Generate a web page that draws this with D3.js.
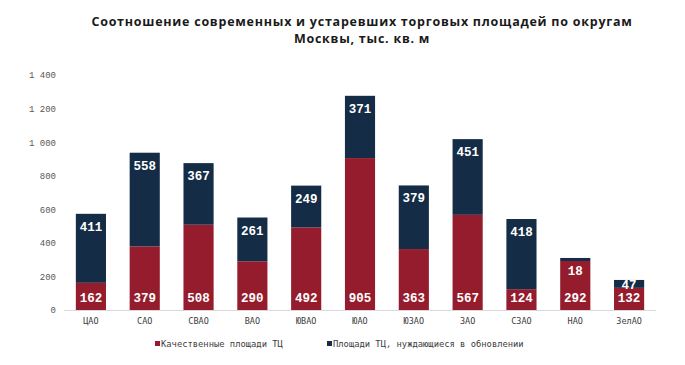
<!DOCTYPE html>
<html>
<head>
<meta charset="utf-8">
<script src="https://cdn.jsdelivr.net/npm/d3@7"></script>
<style>
  body { margin: 0; background: #fff; }
  svg { display: block; }
</style>
</head>
<body>
<svg id="chart" width="685" height="365"></svg>
<script>
const categories = ["ЦАО", "САО", "СВАО", "ВАО", "ЮВАО", "ЮАО", "ЮЗАО", "ЗАО", "СЗАО", "НАО", "ЗелАО"];
const quality = [162, 379, 508, 290, 492, 905, 363, 567, 124, 292, 132];
const outdated = [411, 558, 367, 261, 249, 371, 379, 451, 418, 18, 47];
const yTicks = [0, 200, 400, 600, 800, 1000, 1200, 1400];
const seriesNames = ["Качественные площади ТЦ", "Площади ТЦ, нуждающиеся в обновлении"];
const colors = ["#951c2c", "#152c46"];
const titleLines = ["Соотношение современных и устаревших торговых площадей по округам", "Москвы, тыс. кв. м"];

const svg = d3.select("#chart");
const mono = "'Liberation Mono', 'DejaVu Sans Mono', monospace";
const monoCyr = "'DejaVu Sans Mono', 'Liberation Mono', monospace";

const x = d3.scaleBand().domain(categories).range([64, 656]).paddingInner(0.44).paddingOuter(0.22);
const y = d3.scaleLinear().domain([0, 1400]).range([310, 75]);

// title
svg.append("g").selectAll("text").data(titleLines).join("text")
  .attr("x", 362).attr("y", (d, i) => 26 + i * 16.5)
  .attr("text-anchor", "middle")
  .style("font-family", "'Open Sans', sans-serif").style("font-weight", 700).style("font-size", "12.5px")
  .style("letter-spacing", "0.75px")
  .attr("fill", "#1a1a1a")
  .text(d => d);

// y axis
const yAxis = d3.axisLeft(y).tickValues(yTicks).tickSize(0).tickPadding(0)
  .tickFormat(d => d3.format(",")(d).replace(",", " "));
const ga = svg.append("g").attr("transform", "translate(56,0)").call(yAxis);
ga.select(".domain").remove();
ga.selectAll("text").style("font-family", mono).style("font-size", "9px").attr("fill", "#595959");

// bars
const rows = categories.map((c, i) => ({ c, q: quality[i], o: outdated[i] }));
const g = svg.append("g");
g.selectAll("rect.q").data(rows).join("rect").attr("class", "q")
  .attr("x", d => x(d.c)).attr("width", x.bandwidth())
  .attr("y", d => y(d.q)).attr("height", d => y(0) - y(d.q))
  .attr("fill", colors[0]);
g.selectAll("rect.o").data(rows).join("rect").attr("class", "o")
  .attr("x", d => x(d.c)).attr("width", x.bandwidth())
  .attr("y", d => y(d.q + d.o)).attr("height", d => y(d.q) - y(d.q + d.o))
  .attr("fill", colors[1]);

// x axis
const xAxis = d3.axisBottom(x).tickSize(0).tickPadding(8);
const gx = svg.append("g").attr("transform", "translate(0,310)").call(xAxis);
gx.select(".domain").attr("stroke", "#d9d9d9").attr("d", "M64,0.5H656");
gx.selectAll("text").style("font-family", monoCyr).style("font-size", "8.5px").attr("fill", "#404040");

// labels
g.selectAll("text.q").data(rows).join("text").attr("class", "q")
  .attr("x", d => x(d.c) + x.bandwidth() / 2).attr("y", y(0) - 8)
  .attr("text-anchor", "middle").attr("fill", "#fff")
  .style("font-family", mono).style("font-weight", 700).style("font-size", "12.5px")
  .text(d => d.q);
g.selectAll("text.o").data(rows).join("text").attr("class", "o")
  .attr("x", d => x(d.c) + x.bandwidth() / 2)
  .attr("y", d => Math.min(y(d.q + d.o) + 17, y(0) - 21))
  .attr("text-anchor", "middle").attr("fill", "#fff")
  .style("font-family", mono).style("font-weight", 700).style("font-size", "12.5px")
  .text(d => d.o);

// legend
const legX = [155, 327];
const lg = svg.append("g").selectAll("g").data(seriesNames).join("g")
  .attr("transform", (d, i) => `translate(${legX[i]},0)`);
lg.append("rect").attr("x", 0).attr("y", 341).attr("width", 5).attr("height", 5).attr("fill", (d, i) => colors[i]);
lg.append("text").attr("x", 6).attr("y", 347)
  .style("font-family", monoCyr).style("font-size", "8.8px").attr("fill", "#404040")
  .text(d => d);
</script>
</body>
</html>
